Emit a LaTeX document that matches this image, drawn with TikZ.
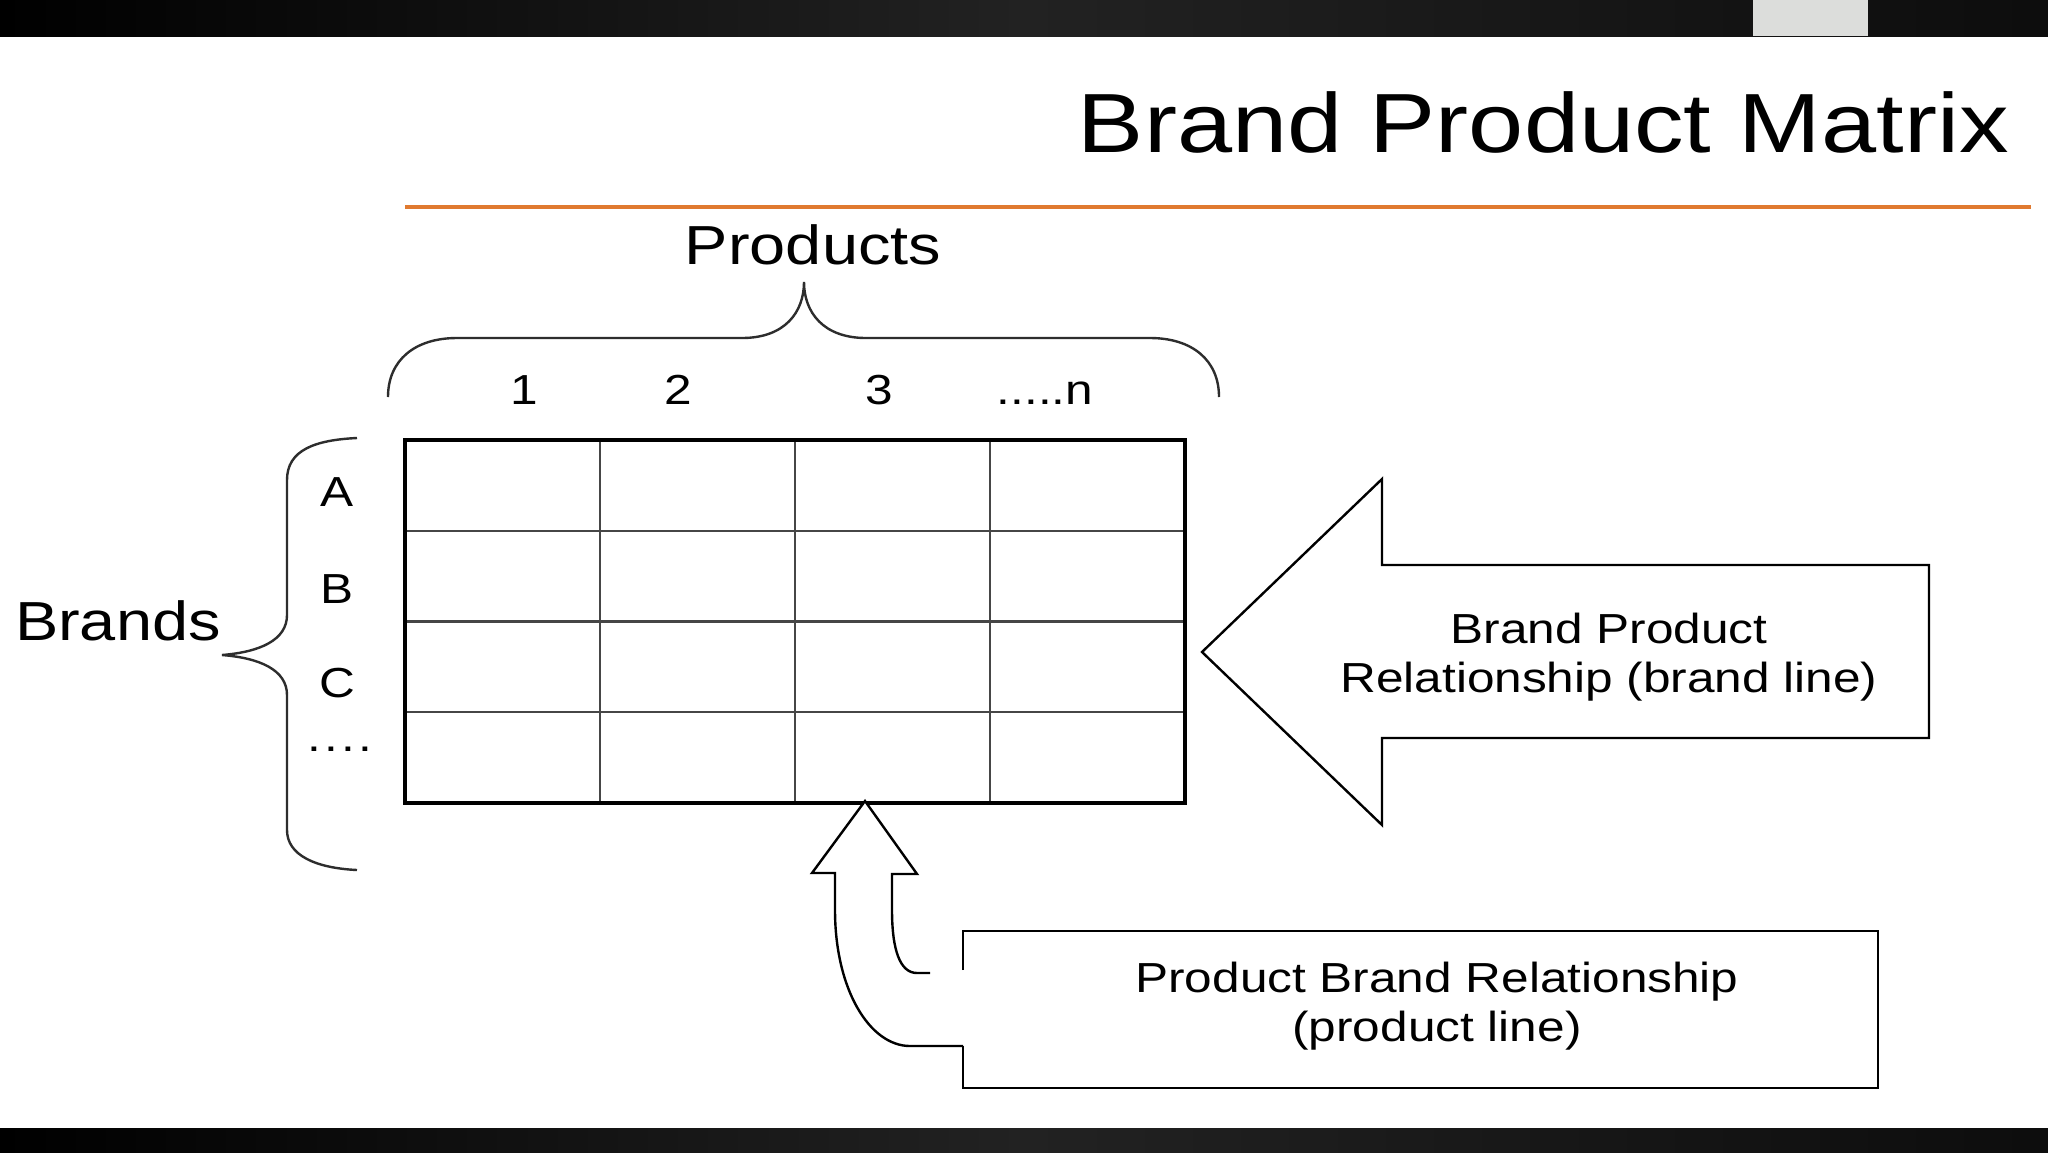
\documentclass[tikz,border=0pt]{standalone}
\usepackage{fontspec}
\setmainfont{Liberation Sans}[FakeStretch=1.18]
\definecolor{rule}{RGB}{224,122,48}
\definecolor{barfill}{RGB}{34,34,34}
\definecolor{tabgray}{RGB}{220,221,219}
\definecolor{gridgray}{RGB}{70,70,70}
\definecolor{inkgray}{RGB}{45,45,45}

\begin{document}
\begin{tikzpicture}[x=0.5pt,y=0.5pt,yscale=-1,xscale=1,
  big/.style={font=\fontsize{27.5}{27.5}\selectfont},
  small/.style={font=\fontsize{21}{24.5}\selectfont},
  bar/.style={left color=black, right color=black!95, middle color=barfill},
  brace/.style={draw=inkgray, line width=1.2pt},
  thinline/.style={draw=gridgray, line width=1.2pt},
  outline/.style={draw=black, line width=1.2pt, line join=miter, fill=white}]
%set diagram to the slide size: 2048 x 1152
\path[use as bounding box, fill=white] (0,0) rectangle (2048,1152);

%Shape: Top bar
\shade[bar] (0,0) rectangle (2048,36);
%Shape: Tab
\fill[tabgray] (1753,0) rectangle (1868,36);
%Shape: Bottom bar
\shade[bar] (0,1128) rectangle (2048,1152);

% Text Node
\draw (2016,152) node (title) [anchor=base east, font=\fontsize{42}{42}\selectfont] {Brand Product Matrix};
%Straight Lines: title rule
\draw[rule, line width=2.2pt] (405,207) -- (2031,207);

% Text Node
\draw (813,264) node (products) [anchor=base, big] {Products};
%Shape: Brace over the columns
\draw[brace] (388,397) .. controls (388,360) and (415,338) .. (457,338) -- (742,338) .. controls (785,338) and (804,312) .. (804,282) .. controls (804,312) and (823,338) .. (866,338) -- (1150,338) .. controls (1192,338) and (1219,360) .. (1219,397);

% Text Nodes: column heads
\foreach \lab/\cx [count=\i] in {1/524, 2/678, 3/879}
  \draw (\cx,404) node (col\i) [anchor=base, small] {\lab};
\draw (1045,404) node (col4) [anchor=base, small] {.....n};

%Shape: Grid
\foreach \cx in {600,795,990}
  \draw[thinline] (\cx,440) -- (\cx,803);
\foreach \ry in {531,621.5,712}
  \draw[thinline] (405,\ry) -- (1185,\ry);
\draw[line width=2pt] (405,440) rectangle (1185,803);

% Text Nodes: row heads
\foreach \lab/\ry [count=\i] in {A/492, B/589, C/683}
  \draw (337,\ry) node (row\i) [small] {\lab};
\draw (340,751) node (rowdots) [anchor=base, small] {.\hspace{1.5pt}.\hspace{1.5pt}.\hspace{1.5pt}.};

% Text Node
\draw (8,640) node (brands) [anchor=base west, big] {Brands};
%Shape: Brace beside the rows
\draw[brace] (357,438) .. controls (315,440) and (287,450) .. (287,480) -- (287,615) .. controls (287,640) and (260,652) .. (222,655) .. controls (260,658) and (287,670) .. (287,695) -- (287,830) .. controls (287,855) and (315,868) .. (357,870);

%Shape: Left Arrow
\draw[outline] (1202,652) -- (1382,479) -- (1382,565) -- (1929,565) -- (1929,738) -- (1382,738) -- (1382,825) -- cycle;
% Text Node
\draw (1609,657) node (bpr) [small, align=center] {Brand Product\\Relationship (brand line)};

%Shape: Box, open where the arrow leaves it
\draw[outline, fill=none] (963,970) -- (963,931) -- (1878,931) -- (1878,1088) -- (963,1088) -- (963,1046);
% Text Node
\draw (1437,1006) node (pbr) [align=center, small] {Product Brand Relationship\\(product line)};

%Shape: Curved Up Arrow
\draw[outline] (930,973) -- (917,973) .. controls (900,973) and (892,950) .. (892,910) -- (892,874) -- (917,874) -- (865,801) -- (812,873) -- (835,873) -- (835,910) .. controls (835,990) and (870,1046) .. (910,1046) -- (963,1046);

\end{tikzpicture}
\end{document}
